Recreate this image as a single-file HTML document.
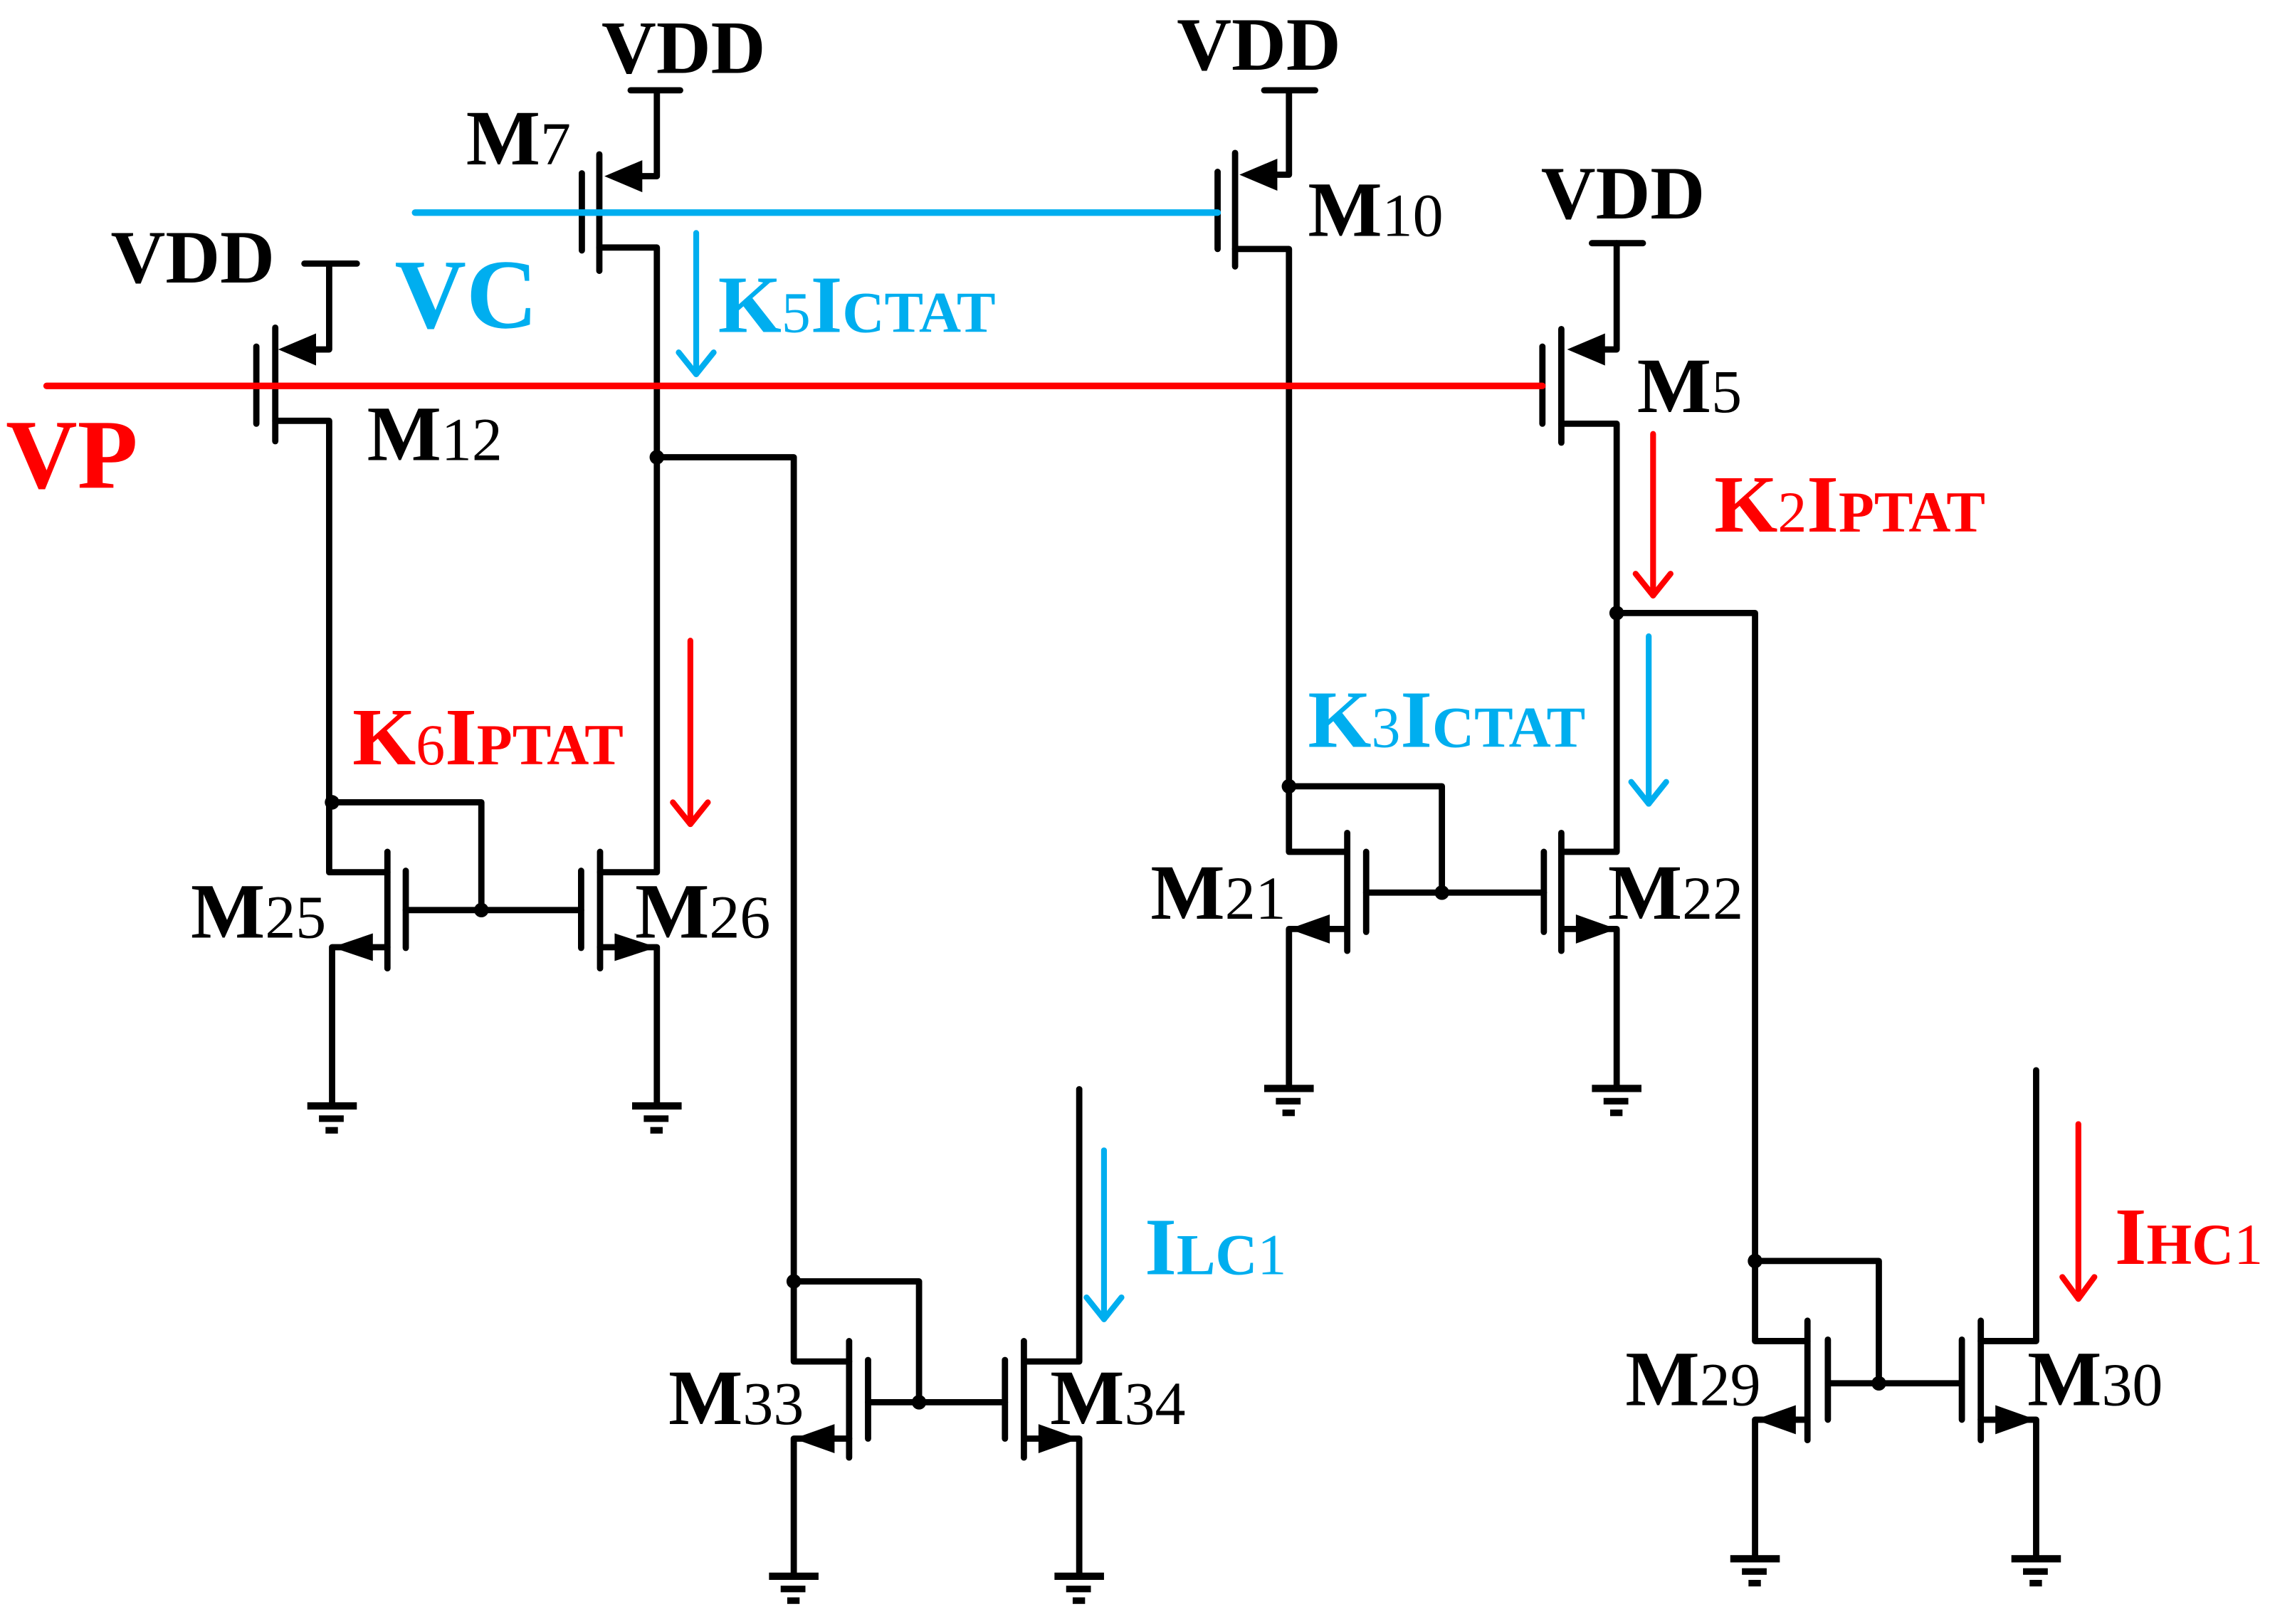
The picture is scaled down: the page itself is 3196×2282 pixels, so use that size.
<!DOCTYPE html>
<html><head><meta charset="utf-8"><style>
html,body{margin:0;padding:0;background:#fff;}
svg{display:block;}
svg text{font-family:"Liberation Serif","Times New Roman",Times,serif !important;font-weight:bold;}
svg text tspan.r{font-weight:normal;}
</style></head><body>
<svg width="3196" height="2282" viewBox="0 0 1562 1115.3" preserveAspectRatio="none" xmlns="http://www.w3.org/2000/svg" font-family="Liberation Serif, Times New Roman, serif">
<g stroke="#000" stroke-width="4.3" fill="none" stroke-linecap="round" stroke-linejoin="round">
<line x1="433" y1="62" x2="467" y2="62"/>
<polyline points="451,62 451,121 430,121"/>
<line x1="411.5" y1="106" x2="411.5" y2="186"/>
<line x1="399.5" y1="119" x2="399.5" y2="172"/>
<polyline points="411.5,170 451,170 451,599 412,599"/>
<line x1="209" y1="181" x2="245" y2="181"/>
<polyline points="226,181 226,240 205,240"/>
<line x1="189" y1="225" x2="189" y2="303"/>
<line x1="176" y1="238" x2="176" y2="291"/>
<polyline points="189,289 226,289 226,599 266,599"/>
<line x1="868" y1="62" x2="903" y2="62"/>
<polyline points="885,62 885,120 864,120"/>
<line x1="848" y1="105" x2="848" y2="183"/>
<line x1="836" y1="118" x2="836" y2="171"/>
<polyline points="848,171 885,171 885,585 925,585"/>
<line x1="1093" y1="167" x2="1128" y2="167"/>
<polyline points="1110,167 1110,240 1088,240"/>
<line x1="1072" y1="226" x2="1072" y2="304"/>
<line x1="1059" y1="238" x2="1059" y2="291"/>
<polyline points="1072,291 1110,291 1110,585 1072,585"/>
<polyline points="1110,421 1205,421 1205,921 1241,921"/>
<polyline points="451,314 545,314 545,935 583,935"/>
<polyline points="228,551 330.5,551 330.5,625"/>
<line x1="278.6" y1="625" x2="399" y2="625"/>
<line x1="266" y1="585" x2="266" y2="665"/>
<line x1="278.6" y1="598" x2="278.6" y2="651"/>
<line x1="412" y1="585" x2="412" y2="665"/>
<line x1="399" y1="598" x2="399" y2="651"/>
<polyline points="266,650.5 228,650.5 228,757"/>
<polyline points="412,650.5 451,650.5 451,757"/>
<polyline points="885,540 990,540 990,613"/>
<line x1="938" y1="613" x2="1060" y2="613"/>
<line x1="925" y1="572" x2="925" y2="653"/>
<line x1="938" y1="585" x2="938" y2="640"/>
<line x1="1072" y1="572" x2="1072" y2="653"/>
<line x1="1060" y1="585" x2="1060" y2="640"/>
<polyline points="925,638 885,638 885,745"/>
<polyline points="1072,638 1110,638 1110,745"/>
<polyline points="545,880 631,880 631,963"/>
<line x1="596" y1="963" x2="690" y2="963"/>
<line x1="583" y1="921" x2="583" y2="1001"/>
<line x1="596" y1="934" x2="596" y2="988"/>
<line x1="703" y1="921" x2="703" y2="1001"/>
<line x1="690" y1="934" x2="690" y2="988"/>
<polyline points="583,988 545,988 545,1080"/>
<polyline points="703,988 741,988 741,1080"/>
<polyline points="741,748 741,935 703,935"/>
<polyline points="1205,866 1290,866 1290,950"/>
<line x1="1255" y1="950" x2="1347" y2="950"/>
<line x1="1241" y1="907" x2="1241" y2="989"/>
<line x1="1255" y1="920" x2="1255" y2="975"/>
<line x1="1360" y1="907" x2="1360" y2="989"/>
<line x1="1347" y1="920" x2="1347" y2="975"/>
<polyline points="1241,975 1205,975 1205,1068"/>
<polyline points="1360,975 1398,975 1398,1068"/>
<polyline points="1398,735 1398,921 1360,921"/>
</g>
<g fill="#000">
<polygon points="415,121 441,110 441,132"/>
<polygon points="191,240 217,229 217,251"/>
<polygon points="851,120 877,109 877,131"/>
<polygon points="1076,240 1102,229 1102,251"/>
<polygon points="228,650.5 256,641 256,660"/>
<polygon points="451,650.5 422,641 422,660"/>
<polygon points="885,638 913,628 913,648"/>
<polygon points="1110,638 1082,628 1082,648"/>
<polygon points="545,988 573,978 573,998"/>
<polygon points="741,988 713,978 713,998"/>
<polygon points="1205,975 1233,965 1233,985"/>
<polygon points="1398,975 1370,965 1370,985"/>
<circle cx="451" cy="314" r="5"/><circle cx="228" cy="551" r="5"/><circle cx="330.5" cy="625" r="5"/>
<circle cx="885" cy="540" r="5"/><circle cx="990" cy="613" r="5"/><circle cx="1110" cy="421" r="5"/>
<circle cx="545" cy="880" r="5"/><circle cx="631" cy="963" r="5"/><circle cx="1205" cy="866" r="5"/><circle cx="1290" cy="950" r="5"/>
<g id="g1"><rect x="211" y="757" width="34" height="5"/><rect x="219" y="766" width="17" height="4.5"/><rect x="223.5" y="774" width="8.5" height="4.5"/></g>
<use href="#g1" transform="translate(223,0)"/>
<use href="#g1" transform="translate(657,-12)"/>
<use href="#g1" transform="translate(882,-12)"/>
<use href="#g1" transform="translate(317,323)"/>
<use href="#g1" transform="translate(513,323)"/>
<use href="#g1" transform="translate(977,311)"/>
<use href="#g1" transform="translate(1170,311)"/>
</g>
<line x1="285" y1="146" x2="836" y2="146" stroke="#00AEEF" stroke-width="4.5" stroke-linecap="round"/>
<line x1="32" y1="265" x2="1059" y2="265" stroke="#FF0000" stroke-width="4.5" stroke-linecap="round"/>
<g fill="none" stroke-width="4" stroke-linecap="round" stroke-linejoin="round">
<g stroke="#00AEEF">
<line x1="478" y1="160" x2="478" y2="257"/><polyline points="466,242 478,257 490,242"/>
<line x1="1132" y1="437" x2="1132" y2="552"/><polyline points="1120,537 1132,552 1144,537"/>
<line x1="758" y1="790" x2="758" y2="906"/><polyline points="746,891 758,906 770,891"/>
</g>
<g stroke="#FF0000">
<line x1="474" y1="440" x2="474" y2="566"/><polyline points="462,551 474,566 486,551"/>
<line x1="1135" y1="298" x2="1135" y2="409"/><polyline points="1123,394 1135,409 1147,394"/>
<line x1="1427" y1="772" x2="1427" y2="892"/><polyline points="1416,877 1427,892 1438,877"/>
</g>
</g>
<g fill="#000" font-size="52">
<text x="413" y="50">VDD</text>
<text x="808" y="48">VDD</text>
<text x="1058" y="150">VDD</text>
<text x="76" y="194">VDD</text>
</g>
<g fill="#000">
<text x="320" y="113" font-size="54">M<tspan class="r" font-size="42">7</tspan></text>
<text x="252" y="316" font-size="54">M<tspan class="r" font-size="42">12</tspan></text>
<text x="898" y="162" font-size="54">M<tspan class="r" font-size="42">10</tspan></text>
<text x="1124" y="283" font-size="54">M<tspan class="r" font-size="42">5</tspan></text>
<text x="131" y="644" font-size="54">M<tspan class="r" font-size="42">25</tspan></text>
<text x="436" y="644" font-size="54">M<tspan class="r" font-size="42">26</tspan></text>
<text x="790" y="631" font-size="54">M<tspan class="r" font-size="42">21</tspan></text>
<text x="1104" y="631" font-size="54">M<tspan class="r" font-size="42">22</tspan></text>
<text x="459" y="978" font-size="54">M<tspan class="r" font-size="42">33</tspan></text>
<text x="721" y="978" font-size="54">M<tspan class="r" font-size="42">34</tspan></text>
<text x="1116" y="965" font-size="54">M<tspan class="r" font-size="42">29</tspan></text>
<text x="1392" y="965" font-size="54">M<tspan class="r" font-size="42">30</tspan></text>
</g>
<text x="4" y="335" font-size="68" fill="#FF0000">VP</text>
<text x="271" y="225" font-size="68" fill="#00AEEF">VC</text>
<g font-size="56">
<text x="493" y="228" fill="#00AEEF">K<tspan class="r" font-size="40">5</tspan>I<tspan font-size="40">CTAT</tspan></text>
<text x="1177" y="365" fill="#FF0000">K<tspan class="r" font-size="40">2</tspan>I<tspan font-size="40">PTAT</tspan></text>
<text x="242" y="525" fill="#FF0000">K<tspan class="r" font-size="40">6</tspan>I<tspan font-size="40">PTAT</tspan></text>
<text x="898" y="513" fill="#00AEEF">K<tspan class="r" font-size="40">3</tspan>I<tspan font-size="40">CTAT</tspan></text>
<text x="786" y="875" fill="#00AEEF">I<tspan font-size="40">LC</tspan><tspan class="r" font-size="40">1</tspan></text>
<text x="1452" y="868" fill="#FF0000">I<tspan font-size="40">HC</tspan><tspan class="r" font-size="40">1</tspan></text>
</g>
</svg>
</body></html>
